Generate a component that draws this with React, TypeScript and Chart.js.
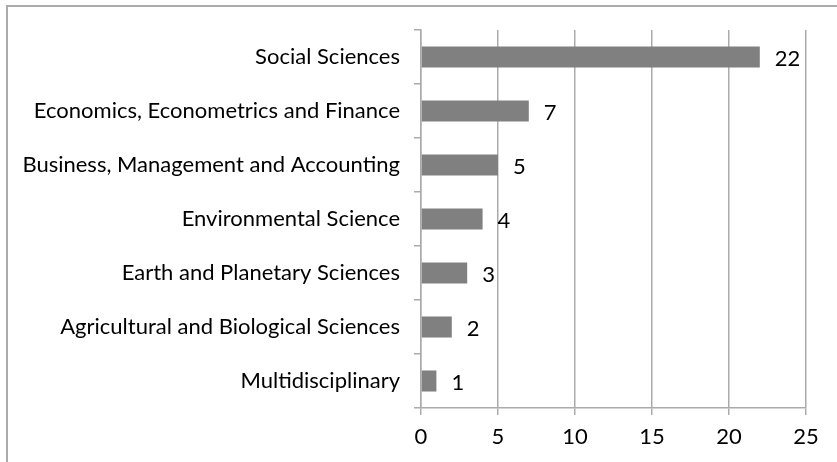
import React, { useEffect, useRef } from "react";
import { Chart, registerables } from "chart.js";

Chart.register(...registerables);

const categories: string[] = [
  "Social Sciences",
  "Economics, Econometrics and Finance",
  "Business, Management and Accounting",
  "Environmental Science",
  "Earth and Planetary Sciences",
  "Agricultural and Biological Sciences",
  "Multidisciplinary",
];
const values: number[] = [22, 7, 5, 4, 3, 2, 1];
const xTicks: number[] = [0, 5, 10, 15, 20, 25];

const FONT = "Lato, 'Open Sans', sans-serif";
const GRID = "#ababab";

const valueLabels = {
  id: "valueLabels",
  afterDatasetsDraw(chart: any) {
    const ctx = chart.ctx;
    const meta = chart.getDatasetMeta(0);
    ctx.save();
    ctx.font = `22px ${FONT}`;
    ctx.fillStyle = "#000";
    ctx.textAlign = "left";
    ctx.textBaseline = "middle";
    meta.data.forEach((bar: any, i: number) => {
      ctx.fillText(String(values[i]), bar.x + 15, bar.y + 2);
    });
    ctx.restore();
  },
};

export default function App() {
  const ref = useRef<HTMLCanvasElement | null>(null);
  useEffect(() => {
    document.body.style.margin = "0";
    const chart = new Chart(ref.current!, {
      type: "bar",
      data: {
        labels: categories,
        datasets: [
          {
            data: values,
            backgroundColor: "#808080",
            borderWidth: 0,
            barPercentage: 0.39,
            categoryPercentage: 1,
          },
        ],
      },
      options: {
        indexAxis: "y",
        animation: false,
        responsive: false,
        maintainAspectRatio: false,
        layout: { padding: { top: 30, right: 31, bottom: 0, left: 0 } },
        plugins: { legend: { display: false }, tooltip: { enabled: false } },
        scales: {
          x: {
            min: 0,
            max: 25,
            afterBuildTicks: (scale: any) => {
              scale.ticks = xTicks.map((v) => ({ value: v }));
            },
            afterFit: (scale: any) => {
              scale.height = 54;
            },
            grid: { color: GRID, lineWidth: 1.5, tickLength: 7 },
            border: { color: GRID, width: 1.5 },
            ticks: {
              color: "#000",
              font: { family: FONT, size: 22 },
              padding: 9,
              maxRotation: 0,
            },
          },
          y: {
            afterFit: (scale: any) => {
              scale.width = 421;
            },
            grid: {
              offset: true,
              drawOnChartArea: false,
              color: GRID,
              lineWidth: 1.5,
              tickLength: 7,
            },
            border: { color: GRID, width: 1.5 },
            ticks: {
              color: "#000",
              font: { family: FONT, size: 22 },
              padding: 14,
            },
          },
        },
      },
      plugins: [valueLabels],
    });
    return () => chart.destroy();
  }, []);
  return (
    <div style={{ position: "relative", width: 837, height: 462, overflow: "hidden", background: "#fff" }}>
      <div
        style={{
          position: "absolute",
          left: 6,
          top: 5,
          width: 900,
          height: 600,
          borderLeft: "2px solid #ababab",
          borderTop: "2px solid #ababab",
        }}
      />
      <canvas ref={ref} width={837} height={462} style={{ position: "absolute", left: 0, top: 0 }} />
    </div>
  );
}
